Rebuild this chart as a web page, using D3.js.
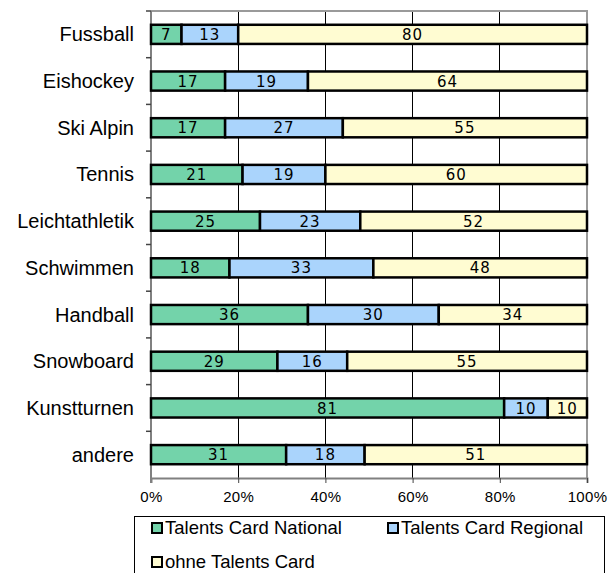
<!DOCTYPE html>
<html>
<head>
<meta charset="utf-8">
<script src="https://cdn.jsdelivr.net/npm/d3@7"></script>
<style>
  body { margin: 0; background: white; }
  svg { display: block; }
</style>
</head>
<body>
<div id="chart"></div>
<script>
const categories = ["Fussball", "Eishockey", "Ski Alpin", "Tennis", "Leichtathletik",
                    "Schwimmen", "Handball", "Snowboard", "Kunstturnen", "andere"]
const national = [7, 17, 17, 21, 25, 18, 36, 29, 81, 31]
const regional = [13, 19, 27, 19, 23, 33, 30, 16, 10, 18]
const ohne = [80, 64, 55, 60, 52, 48, 34, 55, 10, 51]
const seriesNames = ["Talents Card National", "Talents Card Regional", "ohne Talents Card"]
const xTicks = [0, 20, 40, 60, 80, 100]

const colors = ["#73d3aa", "#aad4fc", "#fffcd2"]

const W = 611, H = 573
const plot = {left: 151, right: 587, top: 11, bottom: 478}

const svg = d3.select("#chart").append("svg")
    .attr("width", W)
    .attr("height", H)

const x = d3.scaleLinear().domain([0, 100]).range([plot.left, plot.right])
const y = d3.scaleBand().domain(categories).range([plot.top, plot.bottom]).paddingInner(0.59).paddingOuter(0.295)
const band = d3.scaleBand().domain(categories).range([plot.top, plot.bottom])

// gridlines
svg.append("g")
   .selectAll("line")
   .data(xTicks.slice(1, -1))
   .join("line")
   .attr("x1", d => x(d)).attr("x2", d => x(d))
   .attr("y1", plot.top).attr("y2", plot.bottom)
   .attr("stroke", "#000").attr("stroke-width", 1)
   .attr("shape-rendering", "crispEdges")

// frame (top + right)
svg.append("path")
   .attr("d", `M${plot.left},${plot.top}H${plot.right}V${plot.bottom}`)
   .attr("fill", "none").attr("stroke", "#9a9a9a").attr("stroke-width", 2)

// bottom axis
const xAxis = svg.append("g")
   .attr("transform", `translate(0,${plot.bottom})`)
   .call(d3.axisBottom(x).tickValues(xTicks).tickFormat(d => d + "%").tickSize(5).tickPadding(8))
xAxis.select(".domain").attr("stroke", "#808080").attr("stroke-width", 2)
xAxis.selectAll(".tick line").attr("stroke", "#444")
xAxis.selectAll("text").attr("font-family", "Liberation Sans, Arial, sans-serif")
     .attr("font-size", 15).attr("letter-spacing", 0.3).attr("fill", "#000")

// left axis with ticks at band boundaries
svg.append("line")
   .attr("x1", plot.left).attr("x2", plot.left)
   .attr("y1", plot.top).attr("y2", plot.bottom + 5)
   .attr("stroke", "#808080").attr("stroke-width", 2)
svg.append("g")
   .selectAll("line")
   .data(categories)
   .join("line")
   .attr("x1", plot.left - 5).attr("x2", plot.left)
   .attr("y1", d => band(d)).attr("y2", d => band(d))
   .attr("stroke", "#444").attr("stroke-width", 1.5)

svg.append("g")
   .selectAll("text")
   .data(categories)
   .join("text")
   .attr("x", 134)
   .attr("y", d => y(d) + y.bandwidth() / 2)
   .attr("dy", "0.35em")
   .attr("text-anchor", "end")
   .attr("font-family", "Liberation Sans, Arial, sans-serif")
   .attr("font-size", 20)
   .text(d => d)

// stacked segments
const rows = categories.map((c, i) => {
  const vals = [national[i], regional[i], ohne[i]]
  let cum = 0
  return vals.map((v, k) => {
    const s = {cat: c, k: k, v: v, x0: cum, x1: k === vals.length - 1 ? 100 : Math.min(100, cum + v)}
    cum += v
    return s
  })
}).flat()

svg.append("g")
   .selectAll("rect")
   .data(rows)
   .join("rect")
   .attr("x", d => x(d.x0))
   .attr("y", d => y(d.cat))
   .attr("width", d => x(d.x1) - x(d.x0))
   .attr("height", y.bandwidth())
   .attr("fill", d => colors[d.k])
   .attr("stroke", "#000")
   .attr("stroke-width", 2.5)

svg.append("g")
   .selectAll("text")
   .data(rows)
   .join("text")
   .attr("x", d => (x(d.x0) + x(d.x1)) / 2)
   .attr("y", d => y(d.cat) + y.bandwidth() / 2)
   .attr("dy", "0.37em")
   .attr("text-anchor", "middle")
   .attr("font-family", "DejaVu Sans, Verdana, sans-serif")
   .attr("font-size", 15)
   .attr("letter-spacing", 1)
   .text(d => d.v)

// legend
const legend = svg.append("g")
legend.append("rect")
   .attr("x", 134.5).attr("y", 516.5)
   .attr("width", 470).attr("height", 70)
   .attr("fill", "white").attr("stroke", "#000").attr("stroke-width", 1)

const legendPos = [[152, 528], [388, 528], [152, 562]]
const items = legend.selectAll("g.item")
   .data(seriesNames)
   .join("g")
   .attr("class", "item")
   .attr("transform", (d, i) => `translate(${legendPos[i][0]},${legendPos[i][1]})`)
items.append("rect")
   .attr("x", 0).attr("y", -5)
   .attr("width", 10).attr("height", 10)
   .attr("fill", (d, i) => colors[i])
   .attr("stroke", "#000").attr("stroke-width", 2)
items.append("text")
   .attr("x", 13).attr("y", 0)
   .attr("dy", "0.35em")
   .attr("font-family", "Liberation Sans, Arial, sans-serif")
   .attr("font-size", 18.5)
   .text(d => d)
</script>
</body>
</html>
